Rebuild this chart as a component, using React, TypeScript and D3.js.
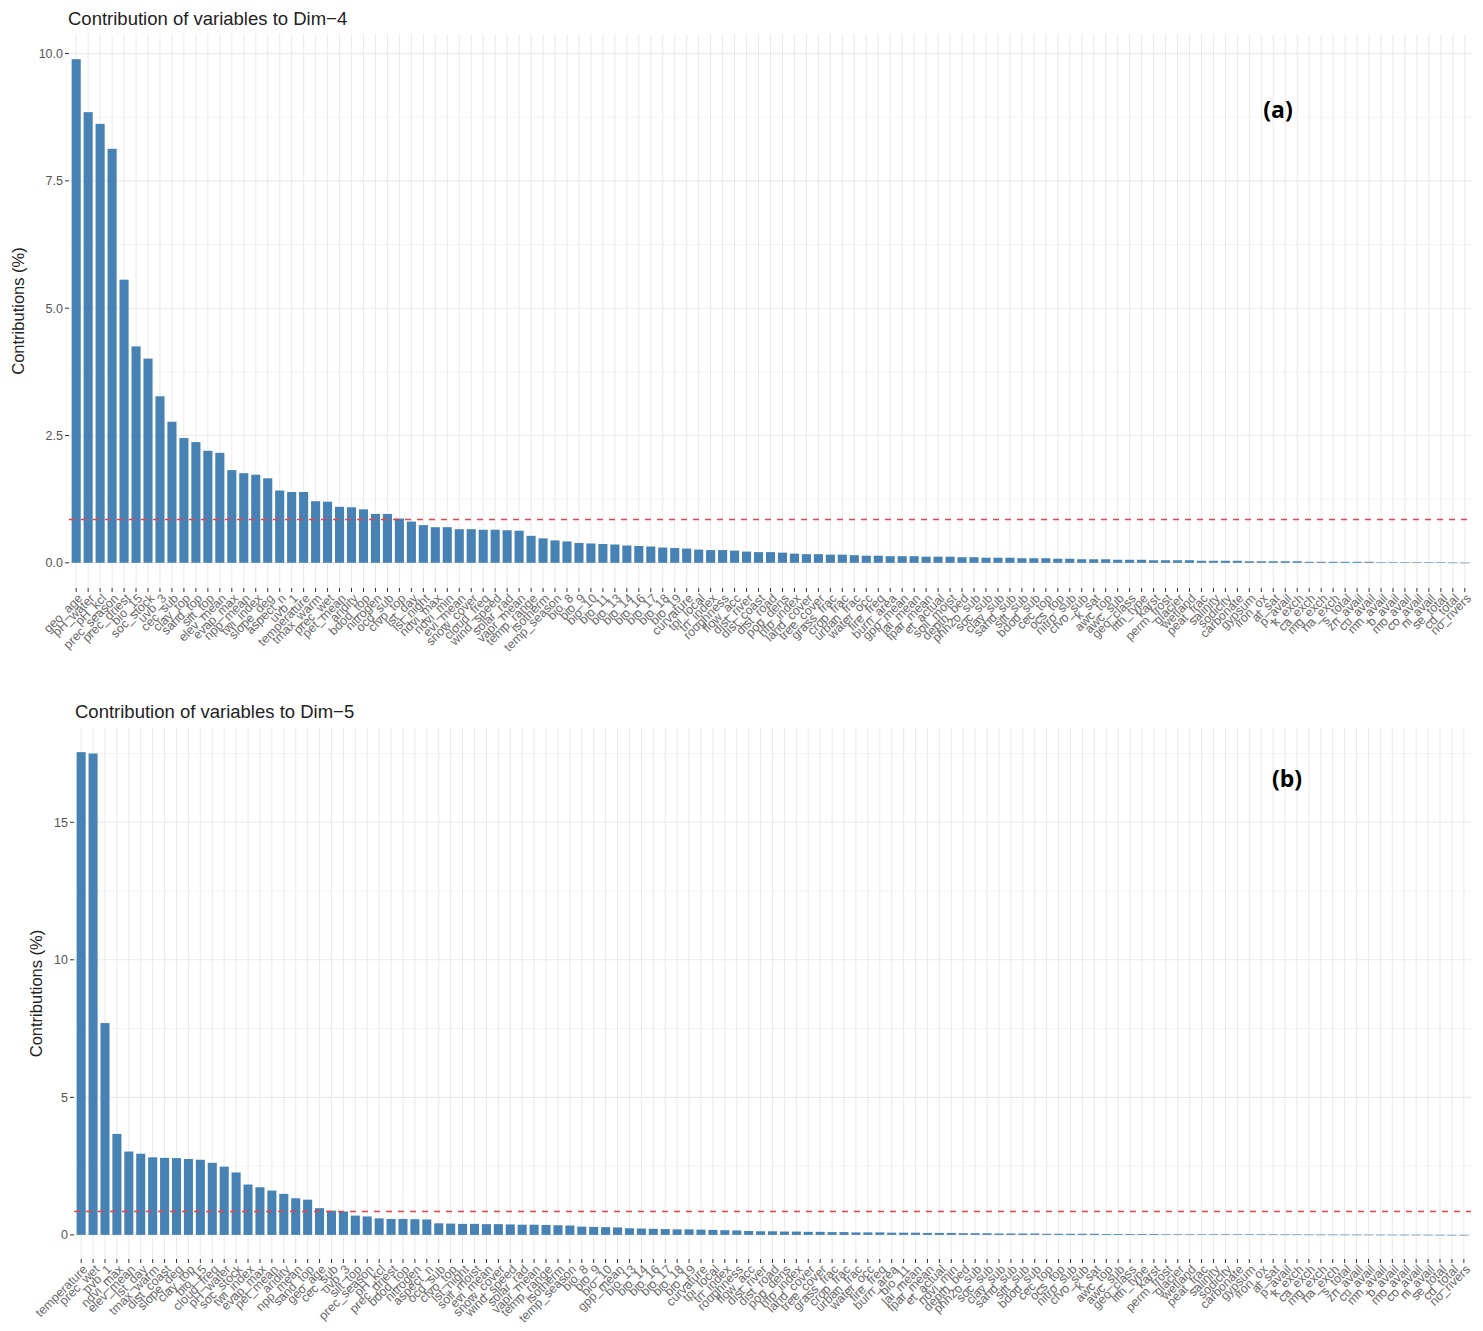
import { max, scaleLinear, scalePoint } from "d3";

// contributions (%) of each variable, sorted as in the figure
const dim4Labels = [
  "geo_age", "pH_water", "pH_kcl", "prec_season", "prec_driest", "bio_15", "soc_stock", "uvb_3", "cec_sub", "clay_top",
  "sand_top", "silt_top", "elev_mean", "evap_max", "npp_mean", "twi_index", "slope_deg", "aspect_n", "uvb_1", "temperature",
  "tmax_warm", "prec_wet", "pet_mean", "aridity", "bdod_top", "nitrogen", "ocd_sub", "cfvo_top", "lst_day", "lst_night",
  "ndvi_max", "ndvi_min", "evi_mean", "snow_cover", "cloud_freq", "wind_speed", "solar_rad", "vapr_mean", "temp_range", "isotherm",
  "temp_season", "bio_8", "bio_9", "bio_10", "bio_11", "bio_13", "bio_14", "bio_16", "bio_17", "bio_18",
  "bio_19", "curvature", "tpi_local", "tri_index", "roughness", "flow_acc", "dist_river", "dist_coast", "dist_road", "pop_dens",
  "hfp_index", "land_cover", "tree_cover", "grass_frac", "crop_frac", "urban_frac", "water_occ", "fire_freq", "burn_area", "gpp_mean",
  "lai_mean", "fpar_mean", "et_actual", "soil_moist", "depth_bed", "phh2o_sub", "soc_sub", "clay_sub", "sand_sub", "silt_sub",
  "bdod_sub", "cec_top", "ocs_top", "nitro_sub", "cfvo_sub", "k_sat", "awc_top", "awc_sub", "geo_class", "lith_type",
  "karst", "perm_frost", "glacier", "wetland", "peat_frac", "salinity", "sodicity", "carbonate", "gypsum", "iron_ox",
  "al_sat", "p_avail", "k_exch", "ca_exch", "mg_exch", "na_exch", "s_total", "zn_avail", "cu_avail", "mn_avail",
  "b_avail", "mo_avail", "co_avail", "ni_avail", "se_total", "cd_total", "no_rivers",
];
const dim4Values = [
  9.89, 8.85, 8.62, 8.13, 5.56, 4.25, 4.01, 3.27, 2.77, 2.45,
  2.37, 2.2, 2.16, 1.82, 1.76, 1.73, 1.66, 1.42, 1.39, 1.39,
  1.21, 1.2, 1.1, 1.09, 1.05, 0.96, 0.96, 0.87, 0.81, 0.74,
  0.7, 0.7, 0.66, 0.66, 0.65, 0.65, 0.64, 0.63, 0.53, 0.48,
  0.44, 0.42, 0.39, 0.38, 0.37, 0.36, 0.34, 0.33, 0.32, 0.3,
  0.29, 0.28, 0.26, 0.25, 0.25, 0.24, 0.22, 0.21, 0.21, 0.2,
  0.18, 0.17, 0.17, 0.16, 0.16, 0.15, 0.14, 0.14, 0.13, 0.13,
  0.13, 0.12, 0.12, 0.12, 0.11, 0.11, 0.1, 0.1, 0.1, 0.09,
  0.09, 0.09, 0.08, 0.08, 0.07, 0.07, 0.07, 0.06, 0.06, 0.06,
  0.05, 0.05, 0.05, 0.05, 0.04, 0.04, 0.04, 0.04, 0.03, 0.03,
  0.03, 0.03, 0.03, 0.02, 0.02, 0.02, 0.02, 0.02, 0.02, 0.01,
  0.01, 0.01, 0.01, 0.01, 0.01, 0.005, 0.003,
];

const dim5Labels = [
  "temperature", "prec_wet", "uvb_1", "ndvi_max", "elev_mean", "lst_day", "tmax_warm", "dist_coast", "slope_deg", "clay_top",
  "bio_15", "cloud_freq", "pH_water", "soc_stock", "twi_index", "evap_max", "pet_mean", "aridity", "npp_mean", "sand_top",
  "geo_age", "cec_sub", "uvb_3", "silt_top", "prec_season", "pH_kcl", "prec_driest", "bdod_top", "nitrogen", "aspect_n",
  "ocd_sub", "cfvo_top", "lst_night", "soil_moist", "evi_mean", "snow_cover", "wind_speed", "solar_rad", "vapr_mean", "temp_range",
  "isotherm", "temp_season", "bio_8", "bio_9", "bio_10", "gpp_mean", "bio_13", "bio_14", "bio_16", "bio_17",
  "bio_18", "bio_19", "curvature", "tpi_local", "tri_index", "roughness", "flow_acc", "dist_river", "dist_road", "pop_dens",
  "hfp_index", "land_cover", "tree_cover", "grass_frac", "crop_frac", "urban_frac", "water_occ", "fire_freq", "burn_area", "bio_11",
  "lai_mean", "fpar_mean", "et_actual", "ndvi_min", "depth_bed", "phh2o_sub", "soc_sub", "clay_sub", "sand_sub", "silt_sub",
  "bdod_sub", "cec_top", "ocs_top", "nitro_sub", "cfvo_sub", "k_sat", "awc_top", "awc_sub", "geo_class", "lith_type",
  "karst", "perm_frost", "glacier", "wetland", "peat_frac", "salinity", "sodicity", "carbonate", "gypsum", "iron_ox",
  "al_sat", "p_avail", "k_exch", "ca_exch", "mg_exch", "na_exch", "s_total", "zn_avail", "cu_avail", "mn_avail",
  "b_avail", "mo_avail", "co_avail", "ni_avail", "se_total", "cd_total", "no_rivers",
];
const dim5Values = [
  17.55, 17.5, 7.7, 3.67, 3.03, 2.95, 2.82, 2.8, 2.79, 2.76,
  2.73, 2.62, 2.48, 2.27, 1.83, 1.73, 1.61, 1.49, 1.33, 1.28,
  0.97, 0.88, 0.85, 0.7, 0.67, 0.6, 0.58, 0.58, 0.57, 0.56,
  0.42, 0.41, 0.4, 0.4, 0.39, 0.39, 0.38, 0.37, 0.37, 0.36,
  0.35, 0.34, 0.3, 0.29, 0.28, 0.27, 0.24, 0.23, 0.22, 0.21,
  0.2, 0.2, 0.19, 0.18, 0.17, 0.16, 0.14, 0.13, 0.13, 0.12,
  0.12, 0.11, 0.11, 0.1, 0.1, 0.09, 0.09, 0.09, 0.08, 0.08,
  0.08, 0.07, 0.07, 0.07, 0.06, 0.06, 0.06, 0.05, 0.05, 0.05,
  0.05, 0.04, 0.04, 0.04, 0.04, 0.04, 0.03, 0.03, 0.03, 0.03,
  0.03, 0.02, 0.02, 0.02, 0.02, 0.02, 0.02, 0.02, 0.02, 0.02,
  0.015, 0.015, 0.014, 0.013, 0.012, 0.011, 0.01, 0.01, 0.009, 0.008,
  0.007, 0.006, 0.005, 0.004, 0.003, 0.002, 0.001,
];

const dim4Ticks = [0, 2.5, 5, 7.5, 10];
const dim4TickLabels = ["0.0", "2.5", "5.0", "7.5", "10.0"];
const dim4Minor = [1.25, 3.75, 6.25, 8.75];
const dim5Ticks = [0, 5, 10, 15];
const dim5TickLabels = ["0", "5", "10", "15"];
const dim5Minor = [2.5, 7.5, 12.5, 17.5];

const FONT = "'Liberation Sans', Arial, sans-serif";
const BAR = "#4682B4";
const GRID = "#EBEBEB";

type Frame = {
  left: number;
  right: number;
  top: number;
  bottom: number;
  titleX: number;
  titleY: number;
  yTitleX: number;
  tagX: number;
  tagY: number;
};

function ContribPanel(props: {
  title: string;
  tag: string;
  labels: string[];
  values: number[];
  ticks: number[];
  tickLabels: string[];
  minor: number[];
  f: Frame;
}) {
  const { title, tag, labels, values, ticks, tickLabels, minor, f } = props;
  const n = Math.min(labels.length, values.length);
  const data = labels.slice(0, n).map((label, i) => ({ label, value: values[i] }));
  const top = max(values) ?? 1;

  const x = scalePoint<string>()
    .domain(data.map((d) => d.label))
    .range([f.left, f.right])
    .padding(0.6);
  const y = scaleLinear()
    .domain([-0.05 * top, 1.05 * top])
    .range([f.bottom, f.top]);
  const bw = x.step() * 0.76;
  const expected = 100 / n;

  return (
    <g fontFamily={FONT}>
      <text x={f.titleX} y={f.titleY} fontSize={18.5} fill="#222">
        {title}
      </text>

      {minor.map((t) => (
        <line key={"m" + t} x1={f.left} x2={f.right} y1={y(t)} y2={y(t)} stroke="#F3F3F3" strokeWidth={0.8} />
      ))}
      {ticks.map((t) => (
        <line key={"g" + t} x1={f.left} x2={f.right} y1={y(t)} y2={y(t)} stroke={GRID} strokeWidth={1.1} />
      ))}
      {data.map((d) => (
        <line key={"v" + d.label} x1={x(d.label)} x2={x(d.label)} y1={f.top} y2={f.bottom} stroke={GRID} strokeWidth={1.1} />
      ))}

      {data.map((d) => (
        <rect
          key={"b" + d.label}
          x={(x(d.label) ?? 0) - bw / 2}
          y={y(d.value)}
          width={bw}
          height={Math.max(0.6, y(0) - y(d.value))}
          fill={BAR}
        />
      ))}

      <line
        x1={f.left}
        x2={f.right}
        y1={Math.round(y(expected)) + 0.5}
        y2={Math.round(y(expected)) + 0.5}
        stroke="#E8414A"
        strokeWidth={1.6}
        strokeDasharray="6 6"
      />

      {ticks.map((t, i) => (
        <g key={"t" + t}>
          <line x1={f.left - 4} x2={f.left} y1={y(t)} y2={y(t)} stroke="#333" strokeWidth={1} />
          <text x={f.left - 6} y={y(t)} dy="0.35em" textAnchor="end" fontSize={12.5} fill="#555">
            {tickLabels[i]}
          </text>
        </g>
      ))}

      {data.map((d) => {
        const cx = x(d.label) ?? 0;
        return (
          <g key={"x" + d.label}>
            <line x1={cx} x2={cx} y1={f.bottom} y2={f.bottom + 4} stroke="#333" strokeWidth={1} />
            <text
              transform={`translate(${cx + 4},${f.bottom + 8}) rotate(-45)`}
              textAnchor="end"
              dy="0.35em"
              fontSize={12.5}
              fill="#6a6a6a"
            >
              {d.label}
            </text>
          </g>
        );
      })}

      <text
        transform={`translate(${f.yTitleX},${(f.top + f.bottom) / 2}) rotate(-90)`}
        textAnchor="middle"
        fontSize={16.5}
        fill="#222"
      >
        Contributions (%)
      </text>

      <text
        x={f.tagX}
        y={f.tagY}
        textAnchor="middle"
        fontFamily="'Open Sans', sans-serif"
        fontWeight={700}
        fontSize={23}
        fill="#000"
      >
        {tag}
      </text>
    </g>
  );
}

export default function App() {
  const frameA: Frame = {
    left: 69, right: 1472, top: 34, bottom: 588,
    titleX: 68, titleY: 25, yTitleX: 24, tagX: 1278, tagY: 118,
  };
  const frameB: Frame = {
    left: 74, right: 1471, top: 728, bottom: 1259,
    titleX: 75, titleY: 718, yTitleX: 42, tagX: 1287, tagY: 787,
  };
  return (
    <svg
      width={1483}
      height={1331}
      style={{ position: "absolute", left: 0, top: 0, background: "#fff" }}
    >
      <rect width={1483} height={1331} fill="#fff" />
      <ContribPanel
        title="Contribution of variables to Dim−4"
        tag="(a)"
        labels={dim4Labels}
        values={dim4Values}
        ticks={dim4Ticks}
        tickLabels={dim4TickLabels}
        minor={dim4Minor}
        f={frameA}
      />
      <ContribPanel
        title="Contribution of variables to Dim−5"
        tag="(b)"
        labels={dim5Labels}
        values={dim5Values}
        ticks={dim5Ticks}
        tickLabels={dim5TickLabels}
        minor={dim5Minor}
        f={frameB}
      />
    </svg>
  );
}
